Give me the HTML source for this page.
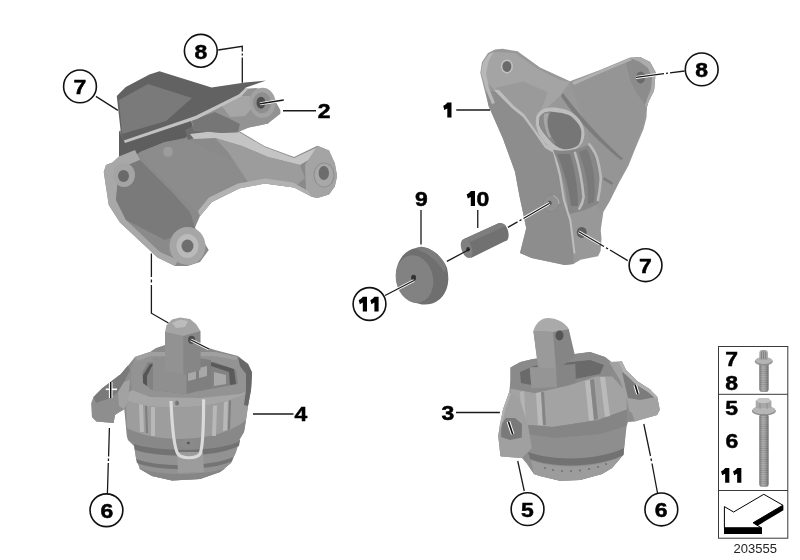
<!DOCTYPE html>
<html><head><meta charset="utf-8">
<style>
html,body{margin:0;padding:0;background:#fff;}
body{width:800px;height:560px;overflow:hidden;}
svg{display:block;filter:grayscale(100%);}
text{font-family:"Liberation Sans",sans-serif;}
</style></head>
<body>
<svg width="800" height="560" viewBox="0 0 800 560">
<defs>
<linearGradient id="gA" x1="0" y1="0" x2="1" y2="1">
<stop offset="0" stop-color="#9a9a9a"/><stop offset="1" stop-color="#8a8a8a"/>
</linearGradient>
</defs>
<defs><path id="one" d="M3.9,-14.8 L8.1,-14.8 L8.1,0 L3.9,0 L3.9,-9 L0.9,-7.4 L-0.2,-11.6 C1.4,-12.1 3,-13.3 3.9,-14.8 Z"/></defs>
<rect width="800" height="560" fill="#fff"/>

<!-- ============ PART A (top-left bracket) ============ -->
<g id="partA">
<!-- main body silhouette -->
<path d="M119,131 L140,126 L195.5,116 L240,98 L262,96 L276,112 L268,123.4 L248.8,127.5 L239,131 L264.8,146.3 L294,157 L317.4,145.8 L329,150.4 L334.8,163.2 L337.1,176 L334.8,186.4 L329,194.5 L317.4,198 L311.6,196.8 L294,187.6 L264.8,183.6 L239,188.5 L211.8,202 L200,216 L195,227.5 L208.75,250 L200,262 L187.5,266 L175,266 L157.5,257.5 L120,222.5 L108.75,205 L103.75,172 L106,165 L112.5,162.5 L119,156.6 Z" fill="#8a8a8a"/>
<!-- dark shadow under plate (left) -->
<path d="M119,131 L123.8,140.6 L190,118 L196,128 L185,138 L165,142 L140,152 L128,160 L119,156.6 Z" fill="#5e5e5e"/>
<!-- shadow under housing -->
<path d="M185,130 L196,124 L225,126 L239,131 L225,134 L200,136 L188,140 Z" fill="#6c6c6c"/>
<!-- central web -->
<path d="M140,152 L165,142 L188,140 L200,146 L230,160 L250,172 L239,188.5 L211.8,202 L200,216 L190,205 L170,185 L150,168 Z" fill="#8c8c8c"/>
<!-- arm highlight ridge -->
<path d="M190,134 L215,131 L239,132 L264.8,147 L294,158 L317.8,147 L322,152 L300,165 L268,157 L242,146 L215,138 L194,139 Z" fill="#c4c4c4"/>
<path d="M215,138 L242,146 L268,157 L300,165 L305,178 L294,187.6 L264.8,183.6 L250,185 L240,170 L228,152 Z" fill="#9c9c9c"/>
<!-- arm end -->
<path d="M317.4,145.8 L329,150.4 L334.8,163.2 L337.1,176 L334.8,186.4 L329,194.5 L317.4,198 L311.6,196.8 L306,190 L305,165 Z" fill="#a4a4a4"/>
<ellipse cx="324" cy="175" rx="10.5" ry="12.5" fill="#8e8e8e"/>
<ellipse cx="324" cy="175" rx="9.5" ry="11.5" fill="#a8a8a8"/>
<ellipse cx="323.8" cy="173" rx="5.2" ry="7" fill="#6c6c6c"/>
<!-- arc lip -->
<path d="M200,216 L211.8,202 L239,188.5 L264.8,183.6 L294,187.6 L311.6,196.8 L308,191 L293,182.5 L265,178.5 L238,183.5 L209,197.5 L198,211 Z" fill="#b2b2b2"/>
<!-- left flange -->
<path d="M103.75,172 L106,165 L112.5,162.5 L119,156.6 L135,150 L140,160 L128,165 L118,178 L116,200 L126,220 L160,252 L178,260 L175,266 L157.5,257.5 L120,222.5 L108.75,205 Z" fill="#a8a8a8"/>
<path d="M118,178 L128,165 L140,160 L150,170 L170,190 L190,212 L195,227.5 L185,232 L165,240 L126,220 L116,200 Z" fill="#7a7a7a"/>
<ellipse cx="124" cy="175" rx="11" ry="12" fill="#a4a4a4"/>
<ellipse cx="123.5" cy="176" rx="5.5" ry="6" fill="#6a6a6a"/>
<ellipse cx="168" cy="151.8" rx="5" ry="5" fill="#9c9c9c"/>
<!-- bottom bushing -->
<ellipse cx="187.5" cy="246" rx="18" ry="19" fill="#a6a6a6"/>
<ellipse cx="187.5" cy="246" rx="11" ry="12" fill="#bababa"/>
<ellipse cx="187.5" cy="246" rx="6" ry="6.5" fill="#6e6e6e"/>
<!-- bushing housing -->
<path d="M243,89 L256,88 L270,92 L280.4,110 L280.4,113.8 L268,123.4 L248.8,127.5 L237.8,132.3 L221.3,133 L193.75,130.3 L190,118 L239,94.5 Z" fill="#939393"/>
<path d="M222,106 L239,96 L250,96 L252,108 L245,116 L230,117 Z" fill="#a6a6a6"/>
<path d="M192,120 L215,112 L228,118 L240,124 L237.8,132.3 L221.3,133 L193.75,130.3 Z" fill="#767676"/>
<ellipse cx="262.5" cy="102.8" rx="13" ry="15" fill="#a2a2a2"/>
<ellipse cx="262" cy="102.8" rx="9" ry="10.5" fill="#8e8e8e"/>
<ellipse cx="261" cy="102.8" rx="4.5" ry="6" fill="#4e4e4e"/>
<!-- plate -->
<path d="M116.75,96 L125.75,87 L149.4,74.6 L159.5,71.25 L211.6,87.6 L245,82.5 L266,80.5 L246,87.6 L239,94.5 L195.5,116 L123.8,140.6 L121,134 Z" fill="#626262"/>
<path d="M119,100 L148,84 L192,98 L166,121 L122,134 Z" fill="#7a7a7a"/>
<path d="M123.8,140.6 L195.5,116 L239,94.5 L246,87.6 L248,89 L241,96.5 L197,119 L125,143 Z" fill="#c2c2c2"/>
</g>

<!-- ============ PART B (top-right bracket) ============ -->
<g id="partB">
<path d="M480.3,73 L482,62 L488,53 L495,49.5 L502.5,48.75 L517.5,51.25 L540,67.5 L570,81.25 L600,70 L630,57.5 L640,57 L650,62 L655.5,72 L655,80 L654,90.7 L648.6,101.4 L647,106.8 L646.5,117.5 L643.5,129 L635.5,147.9 L628.4,165.7 L618.6,183.6 L609.6,201.4 L603.4,212 L600.7,230 L601.5,238.75 L600.6,251 L598,256.25 L580.5,259.75 L573.5,264.1 L564.75,265 L531.5,258 L520,253 L526.25,228.25 L519.25,195 L515,171.7 L503,138.8 L488.5,105.8 Z" fill="#989898"/>
<!-- lower-left face (darker) -->
<path d="M486,90 L497.3,92 L512.3,107 L523,115.7 L533.7,130.6 L545,146 L553,150.8 L559,175.4 L563,200 L569.4,220.5 L573.5,253.4 L573.5,264.1 L564.75,265 L531.5,258 L520,253 L526.25,228.25 L519.25,195 L515,171.7 L503,138.8 L488.5,105.8 Z" fill="#8d8d8d"/>
<!-- left lobe top face -->
<path d="M484,72 L487,58 L495,52 L515,53 L538,69 L560,80 L570,82 L560,96 L545,110 L533.7,130.6 L523,115.7 L512.3,107 L497.3,92 L488,84 Z" fill="#a4a4a4"/>
<path d="M496.2,87.8 L523,81.4 L548,92 L540,112 L533.7,130.6 L523,115.7 L512.3,107 L497.3,92 Z" fill="#9a9a9a"/>
<!-- crease highlight -->
<path d="M494,90 L499,90 L513.5,105.5 L524.5,114.5 L535,129.5 L546,144.5 L555,150 L561,175 L565,200 L571.5,220.5 L575.5,253.4 L573.5,253.4 L569.4,221 L563,200.5 L559,175.7 L553,152.6 L545,148 L533.7,131.6 L523,117 L512.3,108.5 L497.3,93.5 Z" fill="#bdbdbd"/>
<!-- left outer rim highlight -->
<path d="M481,73 L483,62 L489,54 L494,52 L489,60 L486,73 L489,88 L495,103 L492,104 L486,90 Z" fill="#b8b8b8"/>
<!-- right area -->
<path d="M570,82 L600,71 L630,58.5 L645,62 L652,78 L648,100 L644,120 L635,147 L627,165 L609,201 L600,212 L590,190 L592,160 L588,130 L580,110 Z" fill="#959595"/>
<!-- right lobe rim -->
<path d="M625,60 L640,57 L650,62 L655.5,72 L655,80 L654,90.7 L648.6,101.4 L647,106.8 L644.3,103.6 L636,92 L630,80 Z" fill="#8c8c8c"/>
<path d="M630,58 L640,57 L650,62 L655.5,72 L655,80 L654,90.7 L648.6,101.4 L647,106.8 L645,106 L647,99 L651,89 L652,78 L648,68 L640,62 Z" fill="#ababab"/>
<path d="M572,82 L600,70.5 L630,58 L632,60 L601,73 L574,85 Z" fill="#b0b0b0"/>
<!-- diagonal groove -->
<path d="M563,93 C575,110 600,138 623,158.6 L621,160 C596,140 572,114 561,96 Z" fill="#7c7c7c"/>
<path d="M604.3,177.3 L613.2,182.7 L612,185 L603,179.5 Z" fill="#7c7c7c"/>
<!-- oval recess -->
<path d="M536.5,116 C540,107 552,106 564,109 C577,113 585,124 584.5,134 C584,146 575,152 564,152 C552,151 546,145 540,136 C536,129 535,121 536.5,116 Z" fill="#bdbdbd"/>
<path d="M539.6,117.1 C543,112 547,111.5 551.4,111.8 C560,112.5 567,114 570.7,116 C577,121 581.4,127 581.4,132.2 C581.4,139 580,144 577.2,146.1 C573,149 568,149.5 564.3,149.3 C558,148 553,144 550.4,140.7 C545,135 541,130 539.1,124.7 Z" fill="#767676"/>
<path d="M539.6,117.1 C543,112 547,111.5 551.4,111.8 C548,115 547,122 549,130 C551,136 553,140 556,144 C553,143 551.5,142 550.4,140.7 C545,135 541,130 539.1,124.7 Z" fill="#8a8a8a"/>
<path d="M544,114 C546,113 548,113 549,114 C546,120 547,128 551,137 L549,138 C545,130 543,121 544,114 Z" fill="#a6a6a6"/>
<!-- ribs -->
<path d="M553,150 C565,152 578,150 590,144 C598,155 603,170 601,190 L598,204 L585,210 L570,214 L568.6,211.4 C566,190 562,170 553,150 Z" fill="#878787"/>
<path d="M557,154 C564,170 569,188 571,206 L578,206 C578,188 575,170 570,154 Z" fill="#767676"/>
<path d="M579,152 C585,168 589,185 588,204 L594,202 C596,185 594,165 587,149 Z" fill="#7a7a7a"/>
<g fill="none" stroke="#bababa" stroke-width="2.6" stroke-linecap="round">
<path d="M575,152.9 C579,165 582,180 583.6,197 C583,202 581,206 579.3,208.6"/>
<path d="M589.3,144.3 C594,150 597,156 597.9,161.4 C600,170 601,175 600.7,180 C600,190 599,195 597.9,200"/>
</g>
<!-- holes -->
<ellipse cx="506.9" cy="66.4" rx="6" ry="7" fill="#c2c2c2"/>
<ellipse cx="506.9" cy="66.4" rx="4.5" ry="5.5" fill="#6a6a6a"/>
<ellipse cx="640.6" cy="77.5" rx="4.5" ry="6" fill="#6a6a6a"/>
<ellipse cx="551" cy="203.5" rx="8" ry="8.5" fill="#919191" stroke="#848484" stroke-width="0.8"/>
<path d="M553,195.5 C557,197 559,200 559,204" fill="none" stroke="#b0b0b0" stroke-width="1.2"/>
<ellipse cx="549.6" cy="203.2" rx="2" ry="2.4" fill="#555"/>
<ellipse cx="581.7" cy="232.4" rx="5" ry="5.5" fill="#5e5e5e"/>
</g>

<!-- ============ PART 9 / 10 ============ -->
<g id="part9">
<path d="M396,272 C398,258 406,250 416,248 L421,246.8 C432,248 442,256 447,268 C450,280 448,292 440,299 C434,304 428,305 422,304.5 L412,302 C402,298 395,286 396,272 Z" fill="#6f6f6f"/>
<path d="M416,248 L421,246.8 C432,248 442,256 447,268 L444,272 C438,262 430,254 420,251 Z" fill="#7c7c7c"/>
<ellipse cx="414.5" cy="279" rx="18.5" ry="24" transform="rotate(-12 414.5 279)" fill="#828282"/>
<ellipse cx="413.6" cy="277.7" rx="2.5" ry="3" fill="#333"/>
</g>
<g id="part10">
<path d="M464,239 L498,223.5 C503,222 508,226 508.6,234 C509,239 507,241 505.4,241 L471,258 Z" fill="#717171"/>
<path d="M464,239 L498,223.5 C501,222.5 504,223.5 506,226 L470,242 Z" fill="#7e7e7e"/>
<ellipse cx="466.6" cy="248.4" rx="5.2" ry="10" transform="rotate(-18 466.6 248.4)" fill="#808080"/>
<ellipse cx="468" cy="249.25" rx="1.8" ry="2.2" fill="#333"/>
</g>

<!-- ============ PART C (bottom-left mount) ============ -->
<g id="partC">
<!-- overall silhouette -->
<path d="M93.6,397 L102,388.6 L120.7,374.3 L127.9,365.7 L135,357 L150,352 L156,348 L165,345 L200,345 L215,350 L238,356 L248,364 L252,372.6 L251,390 L248,406 L246,420 L244,432 L238,442 L236,452 L231,463 L220,472 L200,479 L172,480.5 L152,476 L140,469 L136,458 L134,446 L128,440 L126.8,436 L124.3,409.3 L117.9,412.9 L115,415 L113.6,422.9 L96.4,421.4 L92,417 L91.4,402.9 Z" fill="#8a8a8a"/>
<!-- lower cylinder -->
<path d="M134,444 C160,452 215,452 240,440 L236,452 L231,463 L220,472 L200,479 L172,480.5 L152,476 L140,469 L136,458 Z" fill="#929292"/>
<path d="M134,444 C160,452 215,452 240,440 L239,446 C215,458 160,458 135,450 Z" fill="#727272"/>
<path d="M136,459 C160,468 212,467 233,457 L232,461 C212,471 160,472 137,463 Z" fill="#747474"/>
<path d="M139,468 C160,477 210,475 226,468 L220,472 L200,479 L172,480.5 L152,476 L140,469 Z" fill="#868686"/>
<!-- middle lip band -->
<path d="M126.8,428 C160,445 220,442 246,420 L244,432 L238,442 C215,452 160,453 128,440 Z" fill="#888888"/>
<!-- upper cylinder -->
<path d="M126,400 C150,412 220,410 249,392 L248,406 L246,420 C220,442 160,445 126.8,428 Z" fill="#9d9d9d"/>
<!-- ribs on housing -->
<path d="M139,404 L143,404 L144,432 L140,432 Z" fill="#b8b8b8"/>
<path d="M145,405 L147,405 L148,433 L146,433 Z" fill="#7d7d7d"/>
<path d="M151,407 L155,407 L155,436 L151,436 Z" fill="#b8b8b8"/>
<path d="M213,406 L217,405 L216,436 L212,436 Z" fill="#b8b8b8"/>
<path d="M224,402 L228,401 L227,430 L223,431 Z" fill="#b8b8b8"/>
<path d="M229,401 L231,400 L230,429 L228,430 Z" fill="#7d7d7d"/>
<!-- housing top surface -->
<path d="M126,396 C132,386 150,382 190,384 C225,385 243,380 251,386 L249,392 C220,410 150,412 126,400 Z" fill="#a6a6a6"/>
<!-- frame -->
<path d="M130,372 L135,357 L150,352 L215,352 L238,357 L248,364 L252,372.6 L251,390 L240,394 L200,398 L150,397 L132,390 Z" fill="#939393"/>
<path d="M142,373 L148,362 L214,362 L236,370 L238,384 L200,391 L152,390 L143,383 Z" fill="#828282"/>
<path d="M143,375 L150,364 L153,364 L147,376 L147,386 L143,383 Z" fill="#555"/>
<path d="M211,362 L234,369 L236,384 L230,385 L229,372 L211,366 Z" fill="#5a5a5a"/>
<path d="M214,372 L226,375 L226,384 L214,386 Z" fill="#a8a8a8"/>
<path d="M135,357 L150,352 L215,352 L238,357 L236,360 L214,356 L150,356 L138,361 Z" fill="#a0a0a0"/>
<!-- right dark rubber -->
<path d="M238,357 L248,364 L252,372.6 L251,390 L248,406 L244,405 L246,390 L246,374 L240,366 Z" fill="#686868"/>
<!-- post base block -->
<path d="M153,358.4 L186.5,356 L211,360 L211,388 L186.5,394 L153,390 Z" fill="#7f7f7f"/>
<path d="M153,358.4 L186.5,356 L186.5,394 L153,390 Z" fill="#8f8f8f"/>
<path d="M188,371 L196,369 L196,379 L188,381 Z" fill="#a8a8a8"/>
<path d="M199,368 L207,366 L207,376 L199,378 Z" fill="#a8a8a8"/>
<!-- post -->
<path d="M165,332 L165,372 L183.4,375 L200.5,370 L200.5,331 Z" fill="#868686"/>
<path d="M165,332 L165,372 L183.4,375 L183.4,336 Z" fill="#929292"/>
<path d="M165,332 L166.5,325.3 L172,319.5 L180,317.5 L190,319 L196,324 L200.5,331 L183.4,336 Z" fill="#a4a4a4"/>
<path d="M172,323 L180,319.5 L188,321 L185,327 L176,328 Z" fill="#bcbcbc"/>
<ellipse cx="191.6" cy="339.7" rx="3.5" ry="4" fill="#4e4e4e"/>
<!-- left ear -->
<path d="M93.6,397 L102,388.6 L120.7,374.3 L127.9,365.7 L132,372 L128,392 L126,405 L124.3,409.3 L117.9,412.9 L115,415 L113.6,422.9 L96.4,421.4 L92,417 L91.4,402.9 Z" fill="#8e8e8e"/>
<path d="M93.6,397 L102,388.6 L120.7,374.3 L127.9,365.7 L130,370 L124,382 L118,392 L110,398 L96,403 Z" fill="#7a7a7a"/>
<path d="M118,392 L124,382 L130,380 L128,400 L124.3,409.3 L119,406 Z" fill="#a2a2a2"/>
<path d="M110.7,382 L110.7,398" stroke="#fff" stroke-width="3.6"/>
<path d="M105.7,389.3 L117,389.3" stroke="#fff" stroke-width="1.6"/>
<path d="M110.7,382 L110.7,398" stroke="#111" stroke-width="1.5"/>
<!-- U clip tongue -->
<path d="M177,452 L203,452 L204,472 L178,473 Z" fill="#9c9c9c"/>
<ellipse cx="188.4" cy="444" rx="8" ry="5" fill="#8a8a8a"/>
<ellipse cx="188.4" cy="443" rx="1.5" ry="1.2" fill="#555"/>
<!-- U clip -->
<path d="M171,401 C172,425 174,448 178,454 C182,459 196,459 200,454 C203,448 203.6,425 203.6,399.3" fill="none" stroke="#dadada" stroke-width="3.2"/>
<ellipse cx="177" cy="403" rx="2" ry="2.5" fill="#777"/>
</g>

<!-- ============ PART D (bottom-right mount) ============ -->
<g id="partD">
<!-- silhouette -->
<path d="M509.3,391.8 L510.5,380 L510.5,367.5 L520.5,362 L533,359 L560,356 L590,352 L605,357 L613.75,364 L621.8,361.25 L626,370 L637.9,381.8 L649.7,389.3 L657.2,396.8 L659.8,409.7 L657.2,415 L642.2,419.3 L634.7,421.4 L628,422 L626.6,426 L625,440 L623.4,454.75 L612,468 L602,474 L580,480 L560,480.75 L540,476 L534,474 L527.5,464.5 L522,458 L501.5,456.4 L500.4,456 L498.2,435.4 L503,409.6 Z" fill="#8c8c8c"/>
<!-- lower cylinder -->
<path d="M527,428 C555,440 600,436 626,424 L625,440 L623.4,454.75 L612,468 L602,474 L580,480 L560,480.75 L540,476 L534,474 L527.5,464.5 Z" fill="#8e8e8e"/>
<path d="M528,452 C555,462 600,460 624,448 L623.5,455 C600,467 555,469 530,459 Z" fill="#727272"/>
<path d="M531,460 C555,470 600,468 622,456 L612,468 L602,474 L580,480 L560,480.75 L540,476 L534,474 Z" fill="#9c9c9c"/>
<g fill="#6a6a6a"><circle cx="545" cy="468" r="0.9"/><circle cx="553" cy="470" r="0.9"/><circle cx="562" cy="471" r="0.9"/><circle cx="571" cy="471" r="0.9"/><circle cx="580" cy="470.5" r="0.9"/><circle cx="589" cy="469" r="0.9"/><circle cx="598" cy="467" r="0.9"/><circle cx="606" cy="464" r="0.9"/></g>
<!-- dome / upper housing -->
<path d="M510.5,388.5 L535,392.9 L570,385 L596.25,376.25 L612,376.25 L626,392 L627,409.5 L598,420 L552.5,427 L510.5,423.5 Z" fill="#a3a3a3"/>
<path d="M510.5,423.5 L552.5,427 L598,420 L627,409.5 L626.6,426 L600,434 L555,438 L515,432 Z" fill="#858585"/>
<!-- ribs -->
<path d="M536,393 L541,392 L543,425 L538,425 Z" fill="#bababa"/>
<path d="M541,392 L544,392 L546,425 L543,425 Z" fill="#858585"/>
<path d="M585,381 L590,380 L594,420 L589,421 Z" fill="#bababa"/>
<path d="M590,380 L594,379 L598,419 L594,420 Z" fill="#858585"/>
<path d="M600,377 L605,377 L610,416 L605,417 Z" fill="#bababa"/>
<path d="M520,392 L524,391 L526,424 L521,424 Z" fill="#b4b4b4"/>
<!-- frame -->
<path d="M510.5,367.5 L520.5,362 L533,359 L560,356 L590,352 L605,357 L613.75,364 L612,376.25 L596.25,376.25 L570,385 L535,392.9 L510.5,388.5 Z" fill="#8a8a8a"/>
<path d="M520,372 L534,366 L590,360 L604,365 L600,374 L570,380 L536,386 L521,383 Z" fill="#6a6a6a"/>
<!-- post base -->
<path d="M529.75,367.5 L575.25,364 L576,382 L561.25,386.75 L531.5,388.5 Z" fill="#858585"/>
<path d="M529.75,367.5 L556,366 L557,387 L531.5,388.5 Z" fill="#959595"/>
<!-- post -->
<path d="M533.4,330.7 L538.2,367.7 L558,369 L575.2,356.4 L568.75,329 Z" fill="#858585"/>
<path d="M533.4,330.7 L538.2,367.7 L556,369 L553,332 Z" fill="#9a9a9a"/>
<path d="M533.4,330.7 C536,322 542,318 547.9,317.9 C556,318 565,322 568.75,329 L553,332 Z" fill="#aaaaaa"/>
<ellipse cx="559.5" cy="335.5" rx="4" ry="5" fill="#555"/>
<!-- right ear -->
<path d="M609,362 L621.8,361.25 L626,370 L637.9,381.8 L649.7,389.3 L657.2,396.8 L659.8,409.7 L657.2,415 L642.2,419.3 L634.7,421.4 L632,412.9 L629.3,411.3 L627,400 L620,380 Z" fill="#a2a2a2"/>
<path d="M622,372 L637.9,381.8 L649.7,389.3 L656,397 L640,400 L628,398 Z" fill="#7c7c7c"/>
<path d="M621.8,361.25 L626,370 L637.9,381.8 L649.7,389.3 L657.2,396.8 L656,399 L648,392 L636,384.5 L624,373 L619,363 Z" fill="#b0b0b0"/>
<path d="M635.2,385 L637.9,394.1" stroke="#fff" stroke-width="3.6"/>
<path d="M635.2,385 L637.9,394.1" stroke="#111" stroke-width="1.6"/>
<!-- left ear -->
<path d="M509.3,391.8 L503,409.6 L498.2,435.4 L500.4,456 L501.5,456.4 L522,458 L531.8,448 L528,425 L520,400 Z" fill="#a0a0a0"/>
<path d="M501.4,424.6 L506,418 L515,418 L522,424 L521.8,437.5 L510,440 L501,437 Z" fill="#7a7a7a"/>
<path d="M509.3,391.8 L503,409.6 L499,428 L501,428 L505,411 L511,394 Z" fill="#b0b0b0"/>
<path d="M508.4,421.4 L512.7,434.3" stroke="#fff" stroke-width="3.6"/>
<path d="M508.4,421.4 L512.7,434.3" stroke="#111" stroke-width="1.6"/>
</g>

<!-- ============ LEADER LINES ============ -->
<g stroke="#fff" stroke-width="3" fill="none" stroke-linecap="butt">
<path d="M260,103.75 L283.75,100"/>
<path d="M191,340 L209,349"/>
<path d="M390,293 L414,280.5"/>
<path d="M507.9,227.4 L549.6,203.2"/>
<path d="M578.75,231.75 L600,244"/>
<path d="M636,77.4 L656,74.7"/>
</g>
<g stroke="#1a1a1a" stroke-width="1.3" fill="none" stroke-linecap="butt">
<path d="M95.9,96.4 L117.9,110.4"/>
<path d="M218.2,50 L242.3,46.3 L242.3,51.5 M242.3,53.5 L242.3,55.5 M242.3,57.5 L242.3,82.7"/>
<path d="M260,103.75 L283.75,100"/>
<path d="M283,110.75 L316,110.75"/>
<path d="M151.4,253.4 L151.4,277 M151.4,279.5 L151.4,282.5 M151.4,285 L151.4,313.2 L168.4,323"/>
<path d="M191,340 L209,349"/>
<path d="M253,414 L293.5,414"/>
<path d="M109.4,427.9 L108.6,456.5 M108.5,458.5 L108.4,461 M108.3,463 L107.4,494"/>
<path d="M456.25,110 L490,110"/>
<path d="M636,77.4 L664,73.7 M666,73.4 L668,73.2 M670,72.9 L684.6,71"/>
<path d="M421,210 L421,244.4"/>
<path d="M477.75,210 L477.75,228"/>
<path d="M385,295.5 L414,280.5"/>
<path d="M446.9,261.4 L469.6,249.25"/>
<path d="M507.9,227.4 L517.5,221.9 M519.5,220.8 L521.5,219.6 M523.5,218.5 L549.6,203.2"/>
<path d="M578.75,231.75 L604,246.5 M606,247.7 L608,248.9 M610,250 L627.75,260.6"/>
<path d="M456,412.5 L499.9,412.5"/>
<path d="M517.75,461 L524.25,491"/>
<path d="M643.8,424 L650.5,456 M651,458.5 L651.5,461 M652,463.5 L657.5,493"/>
</g>

<!-- ============ LABEL CIRCLES ============ -->
<g fill="#fff" stroke="#111" stroke-width="1.6">
<circle cx="80" cy="86.4" r="16.4"/>
<circle cx="200.8" cy="50.8" r="16.4"/>
<circle cx="701.7" cy="69.4" r="16.4"/>
<circle cx="369.5" cy="304" r="16.4"/>
<circle cx="645.55" cy="265.2" r="16.4"/>
<circle cx="106.45" cy="510.25" r="16.4"/>
<circle cx="527.55" cy="509.15" r="16.4"/>
<circle cx="661.35" cy="509.45" r="16.4"/>
</g>
<g font-weight="bold" font-size="20.5" text-anchor="middle" fill="#000" stroke="#000" stroke-width="0.5">
<text transform="translate(79.85,93.70) scale(1.12,1)">7</text>
<text transform="translate(201,58.55) scale(1.12,1)">8</text>
<text transform="translate(701.55,77.05) scale(1.12,1)">8</text>
<use stroke="none" href="#one" x="358.9" y="311.6"/><use stroke="none" href="#one" x="370.5" y="311.6"/>
<text transform="translate(645.35,272.55) scale(1.12,1)">7</text>
<text transform="translate(107,517.75) scale(1.12,1)">6</text>
<text transform="translate(527.35,516.65) scale(1.12,1)">5</text>
<text transform="translate(661.2,516.75) scale(1.12,1)">6</text>
<text transform="translate(324.25,117.95) scale(1.12,1)">2</text>
<use stroke="none" href="#one" x="443.4" y="117.4"/>
<text transform="translate(421.3,205.85) scale(1.12,1)">9</text>
<use stroke="none" href="#one" x="466.9" y="205.9"/><text transform="translate(482.9,205.85) scale(1.12,1)">0</text>
<text transform="translate(301,420.60) scale(1.12,1)">4</text>
<text transform="translate(447.9,419.85) scale(1.12,1)">3</text>
</g>

<!-- ============ LEGEND ============ -->
<g>
<rect x="718.5" y="346.5" width="69.3" height="191.7" fill="none" stroke="#3a3a3a" stroke-width="1"/>
<line x1="718.5" y1="394.3" x2="787.8" y2="394.3" stroke="#3a3a3a" stroke-width="1"/>
<line x1="718.5" y1="490.5" x2="787.8" y2="490.5" stroke="#3a3a3a" stroke-width="1"/>
<g font-weight="bold" font-size="20.5" text-anchor="middle" fill="#000" stroke="#000" stroke-width="0.5">
<text transform="translate(731.6,365.95) scale(1.12,1)">7</text>
<text transform="translate(731.6,389.50) scale(1.12,1)">8</text>
<text transform="translate(731.6,414.55) scale(1.12,1)">5</text>
<text transform="translate(732,448.35) scale(1.12,1)">6</text>
<use stroke="none" href="#one" x="721.25" y="482.75"/><use stroke="none" href="#one" x="733.25" y="482.75"/>
</g>
<!-- small bolt -->
<defs>
<pattern id="thr" x="0" y="0" width="20" height="2.2" patternUnits="userSpaceOnUse">
<rect width="20" height="2.2" fill="#a2a2a2"/><rect y="1.3" width="20" height="0.9" fill="#888"/>
</pattern>
<linearGradient id="shaftG" x1="0" x2="1" y1="0" y2="0">
<stop offset="0" stop-color="#000" stop-opacity="0.25"/><stop offset="0.4" stop-color="#fff" stop-opacity="0.15"/><stop offset="1" stop-color="#000" stop-opacity="0.3"/>
</linearGradient>
</defs>
<rect x="759.3" y="362" width="9.3" height="30" rx="3" fill="url(#thr)"/>
<rect x="759.3" y="362" width="9.3" height="30" rx="3" fill="url(#shaftG)"/>
<ellipse cx="763.8" cy="361.5" rx="9" ry="4" fill="#8c8c8c"/>
<ellipse cx="763.8" cy="360.5" rx="8.5" ry="3.5" fill="#b4b4b4"/>
<path d="M759.3,360 L759.3,353 C759.3,350.5 761,350 763.6,350 C766,350 767.9,350.5 767.9,353 L767.9,360 Z" fill="#a6a6a6"/>
<path d="M761.5,352 L761.5,359 M763.6,351 L763.6,359 M765.7,352 L765.7,359" stroke="#7a7a7a" stroke-width="0.8"/>
<!-- big bolt -->
<rect x="759.3" y="414" width="9.3" height="73" rx="3" fill="url(#thr)"/>
<rect x="759.3" y="414" width="9.3" height="73" rx="3" fill="url(#shaftG)"/>
<ellipse cx="763.9" cy="411" rx="11.9" ry="4.7" fill="#8c8c8c"/>
<ellipse cx="763.9" cy="410" rx="11.3" ry="4.1" fill="#b6b6b6"/>
<path d="M755.7,408 L755.7,401 L759.5,398 L768,398 L771.4,401 L771.4,408 Z" fill="#a8a8a8"/>
<path d="M755.7,401 L759.5,398 L768,398 L771.4,401 L767,403 L760,403 Z" fill="#c4c4c4"/>
<path d="M760,403 L760,409 M767,403 L767,409" stroke="#888" stroke-width="0.8"/>
<!-- arrow -->
<path d="M724.4,506.6 L733.6,512 L763.8,494.3 L782.9,505.2 L753.1,522.8 L761.5,527.9 L724.4,527.9 Z" fill="#fff" stroke="#000" stroke-width="1"/>
<path d="M724,527.4 L762,527.4 L762,534 L724,534 Z" fill="#000"/>
<path d="M782.9,505.2 L783.4,505.2 L783.4,510.3 L757.5,525.8 L753.1,522.8 Z" fill="#000"/>
<text x="755.2" y="553" font-size="13" text-anchor="middle" fill="#222">203555</text>
</g>
</svg>
</body></html>
